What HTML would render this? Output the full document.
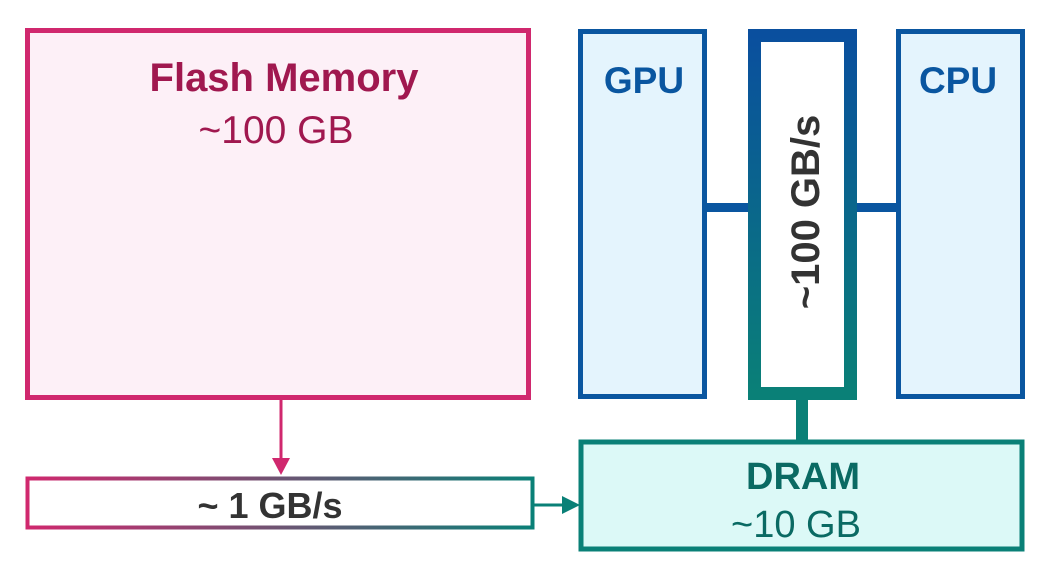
<!DOCTYPE html>
<html><head><meta charset="utf-8"><style>html,body{margin:0;padding:0;background:#fff}svg{display:block}</style></head>
<body>
<svg width="1062" height="580" viewBox="0 0 1062 580" xmlns="http://www.w3.org/2000/svg" font-family="Liberation Sans, sans-serif">
<defs>
<linearGradient id="bus" x1="0" y1="0" x2="0" y2="1"><stop offset="0" stop-color="#0a4f9e"/><stop offset="1" stop-color="#0a8077"/></linearGradient>
<linearGradient id="bw" gradientUnits="userSpaceOnUse" x1="26" y1="0" x2="534" y2="0"><stop offset="0" stop-color="#d0286e"/><stop offset="1" stop-color="#0a8077"/></linearGradient>
</defs>
<rect x="27.5" y="30.5" width="501" height="367" fill="#fdf0f7" stroke="#d0286e" stroke-width="5"/>
<text x="284" y="91" text-anchor="middle" font-size="40" font-weight="bold" fill="#a0184f">Flash Memory</text>
<text x="276" y="143" text-anchor="middle" font-size="39" fill="#a0184f">~100 GB</text>
<line x1="281" y1="399" x2="281" y2="460" stroke="#d0286e" stroke-width="3"/>
<polygon points="272,458 290,458 281,475" fill="#d0286e"/>
<rect x="27.5" y="478.5" width="505" height="49" fill="#fff" stroke="url(#bw)" stroke-width="4"/>
<text x="270" y="518" text-anchor="middle" font-size="36" font-weight="bold" fill="#333">~ 1 GB/s</text>
<line x1="533" y1="505" x2="565" y2="505" stroke="#0a8077" stroke-width="3"/>
<polygon points="562,496 580,505 562,514" fill="#0a8077"/>
<rect x="581" y="442" width="441" height="107" fill="#dcf9f7" stroke="#0a8077" stroke-width="5"/>
<text x="803" y="489" text-anchor="middle" font-size="38" font-weight="bold" fill="#0a6a63">DRAM</text>
<text x="796" y="537" text-anchor="middle" font-size="38" fill="#0a6a63">~10 GB</text>
<rect x="580.5" y="31.5" width="124" height="365" fill="#e4f4fd" stroke="#0a56a0" stroke-width="5"/>
<text x="644" y="93" text-anchor="middle" font-size="37" font-weight="bold" fill="#0a56a0">GPU</text>
<rect x="898.5" y="31.5" width="124" height="365" fill="#e4f4fd" stroke="#0a56a0" stroke-width="5"/>
<text x="958" y="93" text-anchor="middle" font-size="37" font-weight="bold" fill="#0a56a0">CPU</text>
<rect x="706" y="203" width="44" height="9" fill="#0a56a0"/>
<rect x="855" y="203" width="43" height="9" fill="#0a56a0"/>
<rect x="796" y="398" width="12" height="44" fill="#0a8077"/>
<rect x="754.5" y="35.5" width="96" height="358" fill="#fff" stroke="url(#bus)" stroke-width="13"/>
<text transform="translate(819,212) rotate(-90)" text-anchor="middle" font-size="40" font-weight="bold" fill="#333">~100 GB/s</text>
</svg>
</body></html>
